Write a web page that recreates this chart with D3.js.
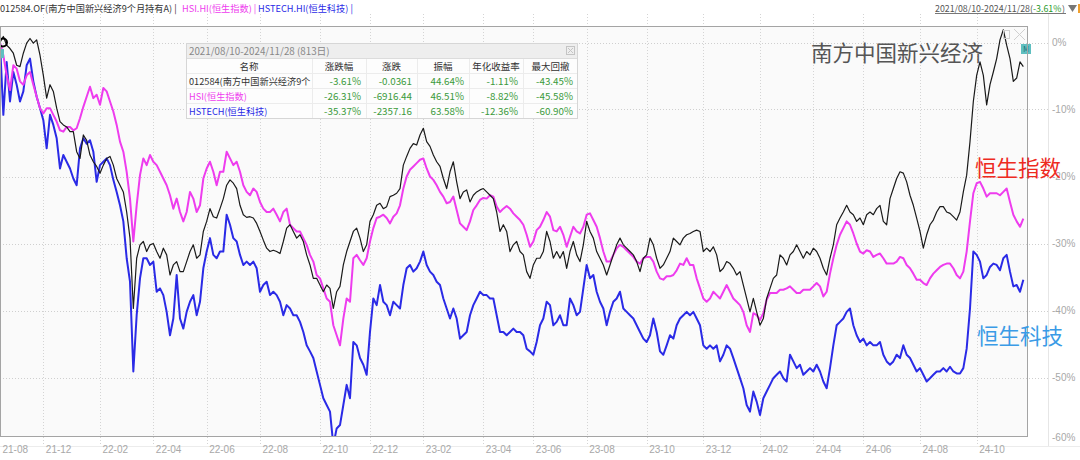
<!DOCTYPE html>
<html>
<head>
<meta charset="utf-8">
<script src="https://cdn.jsdelivr.net/npm/d3@7"></script>
<style>
body { margin: 0; background: #fff; }
svg { display: block; font-family: "Noto Sans CJK SC", "Noto Sans", sans-serif; }
</style>
</head>
<body>
<svg id="chart" width="1080" height="460"></svg>
<script>
// cumulative return (%), one sample every ~2.6 trading days
var fundVals = [
  0,0.9,-0.4,-0.9,-1.6,-3.4,-3.6,-1.6,-0.1,0.6,
  -0.1,0.4,-1.9,-4.9,-8.3,-6.3,-7.3,-9.8,-11.8,-12.3,
  -12.6,-13.3,-13.3,-16.3,-17.3,-13.8,-14.6,-16.8,-17.8,-18.5,
  -19.5,-18.3,-17.3,-17.0,-18.3,-20.3,-21.3,-22.3,-25.3,-29.2,
  -39.7,-32.2,-30.2,-29.7,-31.2,-30.2,-30.0,-31.2,-32.2,-30.7,
  -31.7,-34.7,-33.2,-32.7,-34.2,-34.2,-32.7,-31.2,-30.2,-32.2,
  -31.7,-28.2,-26.7,-24.8,-26.0,-26.2,-24.8,-23.3,-21.3,-20.5,
  -21.0,-21.8,-24.3,-25.7,-26.1,-26.0,-26.2,-27.0,-28.2,-29.5,
  -30.7,-31.2,-31.0,-31.2,-31.5,-29.7,-27.7,-27.2,-28.2,-29.2,
  -28.7,-29.7,-31.7,-33.2,-35.2,-35.2,-36.2,-37.2,-36.2,-36.7,
  -39.7,-37.2,-36.4,
  -33.2,-31.2,-29.7,-28.2,-27.7,-29.2,-31.2,-30.2,-26.7,
  -25.7,-24.3,-24.0,-24.8,-24.5,-23.0,-22.8,-22.5,-21.8,-18.3,
  -17.0,-15.8,-15.1,-15.3,-13.8,-12.8,-14.8,-15.5,-16.8,-17.8,
  -18.5,-20.3,-21.8,-19.3,-17.8,-20.8,-23.3,-22.3,-22.0,-23.8,
  -22.8,-22.3,-22.0,-21.8,-22.3,-22.8,-23.3,-25.3,-28.2,-27.2,
  -28.2,-31.2,-30.2,-29.7,-31.2,-31.7,-34.2,-35.2,-33.2,-32.2,
  -32.2,-31.2,-28.2,-29.7,-32.2,-31.2,-32.2,-31.2,-33.7,-31.2,
  -29.7,-31.7,-32.7,-30.2,-26.7,-28.2,-29.2,-31.2,-32.2,-33.2,
  -34.7,-33.2,-31.7,-30.2,-29.2,-30.2,-30.7,-31.2,-31.7,-32.7,
  -34.2,-32.2,-31.7,-29.2,-30.2,-32.2,-33.7,-33.2,-32.2,-31.2,
  -29.2,-29.7,-30.2,
  -29.2,-28.7,-28.5,-28.2,-28.0,-28.2,-31.2,-30.7,-31.2,
  -30.5,-31.7,-34.2,-33.7,-32.7,-33.0,-33.7,-34.7,-34.2,-36.2,
  -38.2,-40.2,-38.2,-40.2,-42.2,-41.2,-38.2,-36.7,-35.2,-34.7,
  -31.7,-32.2,-33.2,-31.7,-31.2,-30.2,-31.2,-32.2,-31.2,-31.7,
  -30.7,-31.2,-32.2,-33.7,-34.7,-32.2,-30.2,-27.2,-26.2,-25.3,
  -24.3,-25.3,-25.7,-26.7,-26.2,-27.2,-25.7,-25.3,-25.7,-24.8,
  -24.3,-26.7,-27.2,-23.3,-21.8,-20.3,-19.3,-19.5,-20.8,-22.8,
  -24.3,-26.2,-28.2,-30.7,-28.7,-27.2,-26.5,-25.3,-24.5,-24.5,
  -25.3,-25.5,-26.0,-26.5,-25.3,-22.3,-19.8,-14.8,-8.8,-4.9,
  -2.9,-4.9,-9.3,-6.3,-4.4,-2.4,0.4,1.9,-0.4,-2.4,
  -5.8,-5.3,-2.9,-3.6
];

var hsiVals = [
  0,-1.9,-4.9,-7.1,-3.4,-3.9,-5.8,-6.3,-4.9,-4.4,
  -6.3,-8.1,-9.8,-10.6,-9.8,-9.8,-10.8,-11.8,-13.1,-13.3,
  -12.6,-12.6,-13.1,-12.8,-11.3,-9.6,-8.1,-6.6,-8.3,-7.8,
  -9.3,-6.8,-7.3,-8.8,-10.3,-12.3,-14.8,-16.3,-19.3,-23.3,
  -29.7,-24.3,-19.8,-17.3,-18.3,-16.8,-17.8,-18.3,-19.3,-20.3,
  -21.3,-22.8,-24.8,-23.3,-25.3,-26.7,-25.3,-22.3,-23.3,-25.3,
  -24.3,-20.3,-18.8,-17.8,-19.3,-21.3,-19.3,-19.3,-16.3,-17.3,
  -18.3,-17.8,-19.3,-21.3,-22.3,-22.8,-21.8,-22.3,-23.8,-24.8,
  -25.3,-25.3,-24.8,-25.7,-26.7,-25.3,-24.8,-27.2,-27.7,-28.2,
  -28.2,-29.2,-30.2,-31.7,-32.7,-34.7,-35.2,-36.7,-38.2,-38.7,
  -42.2,-43.7,-45.2,
  -41.2,-38.2,-38.7,-32.2,-31.7,-32.5,-33.2,-32.2,-29.7,
  -27.7,-26.2,-26.0,-25.7,-26.2,-27.0,-26.0,-25.5,-24.3,-21.8,
  -20.0,-19.0,-18.5,-18.0,-17.5,-17.3,-18.8,-20.0,-20.5,-21.3,
  -22.3,-23.0,-24.0,-23.8,-23.0,-25.0,-27.0,-27.5,-28.0,-26.7,
  -25.0,-24.3,-23.5,-23.2,-23.3,-22.8,-23.0,-24.5,-25.3,-24.8,
  -24.4,-24.8,-25.5,-26.0,-26.5,-27.2,-28.7,-30.5,-29.7,-28.0,
  -27.5,-26.5,-25.3,-26.0,-28.0,-28.2,-27.5,-28.7,-30.5,-29.0,
  -27.5,-28.2,-28.5,-27.5,-25.7,-25.5,-26.5,-27.5,-29.2,-31.2,
  -32.7,-32.7,-31.7,-30.7,-30.2,-30.5,-31.0,-31.5,-32.0,-32.7,
  -33.0,-32.2,-32.0,-32.0,-32.7,-34.2,-35.2,-35.4,-34.9,-34.9,
  -34.7,-34.0,-33.0,
  -33.2,-32.2,-33.2,-33.2,-35.2,-36.7,-38.2,-38.7,-38.2,
  -37.2,-37.7,-38.2,-37.2,-36.2,-37.2,-38.2,-38.7,-39.2,-40.2,
  -42.2,-43.2,-40.4,-40.7,-41.4,-40.4,-38.4,-37.4,-37.4,-37.4,
  -36.9,-36.9,-36.7,-36.4,-36.9,-37.4,-37.4,-36.9,-36.9,-36.9,
  -36.4,-35.9,-36.4,-37.9,-37.2,-34.5,-32.2,-30.2,-28.7,-27.7,
  -26.7,-27.2,-28.5,-30.0,-31.2,-31.5,-31.0,-31.2,-32.0,-31.7,
  -31.5,-32.2,-33.0,-33.0,-33.0,-32.7,-32.0,-32.2,-33.2,-33.7,
  -34.5,-35.4,-35.4,-35.9,-36.2,-35.2,-34.5,-34.0,-33.5,-33.2,
  -33.0,-33.0,-33.7,-34.7,-35.2,-34.2,-31.2,-26.7,-22.5,-21.0,
  -20.8,-21.8,-23.0,-22.5,-22.5,-22.5,-22.8,-22.3,-21.8,-23.8,
  -25.7,-26.7,-27.5,-26.3
];

var hstechVals = [
  0,-10.8,-2.9,-8.8,-4.4,-6.3,-8.8,-7.3,-3.4,-2.4,
  -5.8,-8.1,-9.8,-11.6,-15.8,-10.8,-12.3,-14.3,-18.8,-16.8,
  -17.8,-18.8,-20.3,-21.3,-15.8,-14.3,-15.1,-14.6,-16.3,-20.8,
  -18.3,-17.8,-17.3,-18.3,-20.5,-22.3,-24.3,-26.7,-32.2,-35.7,
  -49.1,-40.7,-35.2,-32.2,-32.2,-33.2,-32.7,-37.2,-36.7,-37.7,
  -40.2,-43.7,-41.2,-34.7,-41.2,-42.7,-40.2,-38.7,-37.7,-40.7,
  -38.7,-33.7,-31.2,-29.2,-31.7,-32.2,-31.2,-31.2,-25.7,-27.2,
  -29.2,-29.7,-31.7,-33.2,-32.7,-33.2,-32.7,-33.7,-37.2,-36.2,
  -35.7,-37.7,-37.2,-37.7,-38.7,-40.7,-39.2,-39.7,-40.7,-40.7,
  -41.7,-43.2,-45.2,-46.1,-47.1,-49.1,-51.1,-53.1,-54.1,-55.1,
  -60.1,-57.6,-57.1,
  -54.1,-51.1,-53.1,-44.7,-45.2,-47.1,-48.1,-49.6,-43.2,
  -38.2,-39.2,-36.2,-38.7,-39.2,-40.7,-38.7,-39.2,-39.7,-36.2,
  -33.7,-33.2,-34.2,-33.7,-32.7,-31.2,-33.2,-34.2,-34.7,-35.7,
  -36.2,-38.2,-39.7,-41.2,-39.7,-41.2,-44.2,-43.7,-43.2,-40.7,
  -39.2,-38.2,-37.2,-37.7,-37.7,-38.2,-38.2,-40.7,-43.2,-43.2,
  -43.7,-43.2,-42.7,-43.2,-43.2,-43.7,-45.7,-46.1,-46.6,-44.7,
  -42.2,-41.2,-38.7,-39.2,-42.2,-41.7,-40.7,-42.2,-42.2,-38.2,
  -39.2,-40.7,-40.2,-36.7,-33.2,-35.2,-34.7,-37.2,-38.7,-39.7,
  -42.2,-40.2,-38.7,-38.2,-37.2,-39.7,-40.2,-40.7,-41.2,-42.2,
  -43.2,-44.2,-44.7,-43.7,-41.2,-43.2,-46.1,-46.6,-45.2,-43.7,
  -44.2,-42.2,-41.2,
  -40.7,-40.2,-40.7,-40.2,-41.2,-42.2,-45.2,-45.7,-45.2,
  -45.7,-45.2,-47.6,-46.6,-45.2,-45.7,-47.1,-48.6,-50.1,-51.6,
  -54.1,-55.1,-52.1,-53.6,-55.6,-53.1,-52.1,-51.1,-50.1,-49.6,
  -49.1,-50.1,-50.6,-46.6,-47.6,-48.6,-48.1,-49.6,-49.1,-48.6,
  -49.1,-48.1,-49.1,-50.6,-51.6,-48.6,-45.2,-42.2,-41.7,-41.2,
  -40.2,-39.7,-42.2,-43.7,-44.7,-44.2,-45.2,-44.7,-45.2,-45.2,
  -44.7,-46.6,-47.6,-48.1,-47.6,-46.6,-47.1,-45.2,-46.6,-47.1,
  -48.1,-49.1,-48.6,-49.6,-50.6,-50.1,-49.6,-49.1,-49.1,-48.6,
  -49.1,-48.4,-49.1,-49.4,-49.4,-48.6,-45.7,-39.7,-31.2,-31.7,
  -32.7,-35.2,-34.7,-33.5,-33.0,-33.2,-34.0,-32.2,-31.7,-34.2,
  -36.4,-36.2,-37.2,-35.4
];

// x tick marks (sample index) and their labels
var xTickPos = [0, 13, 30, 46, 62, 78, 96, 111, 127, 145, 160, 176, 194, 211, 228, 244, 259, 276, 293];
var xTickLabels = ["21-08","21-12","22-02","22-04","22-06","22-08","22-10","22-12","23-02","23-04",
                   "23-06","23-08","23-10","23-12","24-02","24-04","24-06","24-08","24-10"];
var yTicks = [0, -10, -20, -30, -40, -50, -60];

// summary table
var tableHeaders = ["名称", "涨跌幅", "涨跌", "振幅", "年化收益率", "最大回撤"];
var tableNames = ["012584(南方中国新兴经济9个", "HSI(恒生指数)", "HSTECH(恒生科技)"];
var changePct = ["-3.61%", "-26.31%", "-35.37%"];
var changeAbs = ["-0.0361", "-6916.44", "-2357.16"];
var amplitude = ["44.64%", "46.51%", "63.58%"];
var annualRet = ["-1.11%", "-8.82%", "-12.36%"];
var maxDrawdown = ["-43.45%", "-45.58%", "-60.90%"];

var seriesColors = ["#1a1a1a", "#ee3cee", "#2a2ae6"];

var svg = d3.select("#chart");

var x = d3.scaleLinear().domain([0, 307.5]).range([0, 1025]);
var y = d3.scaleLinear().domain([-60, 0]).range([444.5, 42.5]);

// plot background
svg.append("rect")
   .attr("x", 0.5).attr("y", 26.5)
   .attr("width", 1027).attr("height", 410)
   .style("fill", "#fafafa");

// grid
svg.append("g").selectAll("line")
   .data(yTicks.filter(function(d){ return d > -60; }))
   .enter().append("line")
   .attr("x1", 0).attr("x2", 1049)
   .attr("y1", function(d){ return Math.round(y(d)) + 0.5; })
   .attr("y2", function(d){ return Math.round(y(d)) + 0.5; })
   .style("stroke", "#cfcfcf")
   .style("stroke-dasharray", "1,2");

svg.append("g").selectAll("line")
   .data(xTickPos.slice(1))
   .enter().append("line")
   .attr("x1", function(d){ return Math.round(x(d)) + 0.5; })
   .attr("x2", function(d){ return Math.round(x(d)) + 0.5; })
   .attr("y1", 14).attr("y2", 446)
   .style("stroke", "#d4d4d4")
   .style("stroke-dasharray", "1,2");

svg.append("line")
   .attr("x1", 1048.5).attr("x2", 1048.5).attr("y1", 14).attr("y2", 447)
   .style("stroke", "#e6e6e6");
svg.append("line")
   .attr("x1", 0).attr("x2", 1080).attr("y1", 446.5).attr("y2", 446.5)
   .style("stroke", "#ececec");

// axes
var xAxis = d3.axisBottom(x)
   .tickValues(xTickPos)
   .tickFormat(function(d, i){ return xTickLabels[i]; })
   .tickSize(0).tickPadding(0);
var gx = svg.append("g").attr("transform", "translate(0,447)").call(xAxis);
gx.select(".domain").remove();
gx.selectAll("text")
   .attr("text-anchor", "start")
   .attr("dx", 2).attr("dy", "0.55em")
   .style("font-size", "10px")
   .style("fill", "#a8a8a8");

var yAxis = d3.axisRight(y)
   .tickValues(yTicks)
   .tickFormat(function(d){ return d + "%"; })
   .tickSize(0).tickPadding(2);
var gy = svg.append("g").attr("transform", "translate(1050,0)").call(yAxis);
gy.select(".domain").remove();
gy.selectAll("text")
   .style("font-size", "10px")
   .style("fill", "#a8a8a8");
gy.selectAll(".tick")
   .filter(function(d){ return d === -60; })
   .attr("transform", "translate(0,438)");

// lines
svg.append("clipPath").attr("id", "plotclip")
   .append("rect").attr("x", 0).attr("y", 27).attr("width", 1028).attr("height", 410);

var line = d3.line()
   .x(function(d, i){ return x(i); })
   .y(function(d){ return y(d); });

var lines = svg.append("g").attr("clip-path", "url(#plotclip)");
[[hstechVals, 2, 2], [hsiVals, 1, 2], [fundVals, 0, 1.2]].forEach(function(s){
  lines.append("path")
     .datum(s[0])
     .attr("d", line)
     .style("fill", "none")
     .style("stroke", seriesColors[s[1]])
     .style("stroke-width", s[2])
     .style("stroke-linejoin", "round");
});

// start / end markers
lines.append("circle")
   .attr("cx", x(0) + 3).attr("cy", y(fundVals[0]))
   .attr("r", 4)
   .style("fill", "none").style("stroke", "#000").style("stroke-width", 2);
lines.append("rect")
   .attr("x", -5).attr("y", 49).attr("width", 9).attr("height", 9)
   .style("fill", "#5fbfc0");
svg.append("rect")
   .attr("x", 1021).attr("y", 44).attr("width", 10).attr("height", 10)
   .style("fill", "#5fbfc0");
svg.append("text")
   .attr("x", 1026).attr("y", 52).attr("text-anchor", "middle")
   .style("font-size", "7px").style("fill", "#1d6b6b")
   .text("M");

// frame
svg.append("rect")
   .attr("x", 0.5).attr("y", 26.5)
   .attr("width", 1027).attr("height", 410)
   .style("fill", "none").style("stroke", "#a4a4a4");

// little icons top right of frame
svg.append("rect")
   .attr("x", 1003.5).attr("y", 30.5).attr("width", 6).attr("height", 8)
   .style("fill", "none").style("stroke", "#cfcfcf");
svg.append("path")
   .attr("d", "M1014,29L1025,40M1025,29L1014,40")
   .style("stroke", "#d0d0d0");

// big series labels (恒生指数 sits over the -20% label, as in the source)
var bigLabels = [
  {text: "南方中国新兴经济", x: 811, y: 61, color: "#555555"},
  {text: "恒生指数", x: 975, y: 176, color: "#ee2b1f"},
  {text: "恒生科技", x: 977, y: 344, color: "#3a9be6"}
];
svg.selectAll(".biglabel")
   .data(bigLabels)
   .enter().append("text")
   .attr("class", "biglabel")
   .attr("x", function(d){ return d.x; })
   .attr("y", function(d){ return d.y; })
   .style("font-size", "21.5px")
   .style("fill", function(d){ return d.color; })
   .text(function(d){ return d.text; });

// header line (top left), each name carries its own separator
var header = [
  {t: "012584.OF(南方中国新兴经济9个月持有A) |", x: 0, c: "#333"},
  {t: "HSI.HI(恒生指数) |", x: 182, c: seriesColors[1]},
  {t: "HSTECH.HI(恒生科技) |", x: 258, c: seriesColors[2]}
];
header.forEach(function(h){
  svg.append("text")
     .attr("x", h.x).attr("y", 12)
     .style("font-size", "9.2px")
     .style("fill", h.c)
     .text(h.t);
});

// header line (top right)
svg.append("text").attr("x", 935).attr("y", 12)
   .style("font-size", "8.8px").style("fill", "#555")
   .text("2021/08/10-2024/11/28(");
svg.append("text").attr("x", 1033).attr("y", 12)
   .style("font-size", "8.8px").style("fill", "#2a9a2a")
   .text(changePct[0]);
svg.append("text").attr("x", 1062).attr("y", 12)
   .style("font-size", "8.8px").style("fill", "#555")
   .text(")");
svg.append("line")
   .attr("x1", 935).attr("x2", 1066).attr("y1", 13.5).attr("y2", 13.5)
   .style("stroke", "#777");
svg.append("path").attr("d", "M1068,5L1077,5L1072.5,12Z").style("fill", "#777");
svg.append("rect").attr("x", 1078).attr("y", 4).attr("width", 2).attr("height", 9).style("fill", "#f0a030");

// summary table
var tbl = svg.append("g");
var colEdges = [186, 312, 366, 417, 469, 523, 578];
tbl.append("rect")
   .attr("x", 186.5).attr("y", 43.5).attr("width", 391).attr("height", 75)
   .style("fill", "#fdfdfd").style("stroke", "#d6d6d6");
tbl.append("rect")
   .attr("x", 187).attr("y", 44).attr("width", 390).attr("height", 14)
   .style("fill", "#eeeeee");
tbl.append("line")
   .attr("x1", 187).attr("x2", 577).attr("y1", 58.5).attr("y2", 58.5)
   .style("stroke", "#dcdcdc");
tbl.append("text")
   .attr("x", 189).attr("y", 55)
   .style("font-size", "9.8px").style("fill", "#888")
   .text("2021/08/10-2024/11/28 (813日)");
tbl.append("rect")
   .attr("x", 566.5).attr("y", 46.5).attr("width", 8).attr("height", 8)
   .style("fill", "none").style("stroke", "#c4c4c4");
tbl.append("path")
   .attr("d", "M568,48L573,53M573,48L568,53")
   .style("stroke", "#c4c4c4");

[73.5, 88.5, 103.5].forEach(function(yy){
  tbl.append("line").attr("x1", 187).attr("x2", 577).attr("y1", yy).attr("y2", yy)
     .style("stroke", "#ececec");
});
colEdges.slice(1, 6).forEach(function(xx){
  tbl.append("line").attr("x1", xx + 0.5).attr("x2", xx + 0.5).attr("y1", 59).attr("y2", 118)
     .style("stroke", "#ececec");
});

tbl.selectAll(".th")
   .data(tableHeaders)
   .enter().append("text")
   .attr("x", function(d, i){ return (colEdges[i] + colEdges[i + 1]) / 2; })
   .attr("y", 70)
   .attr("text-anchor", "middle")
   .style("font-size", "9.5px").style("fill", "#333")
   .text(function(d){ return d; });

var rowY = [85, 100, 115];
var nameColors = ["#333", seriesColors[1], seriesColors[2]];
tableNames.forEach(function(n, r){
  tbl.append("text")
     .attr("x", 189).attr("y", rowY[r])
     .style("font-size", "9.2px").style("fill", nameColors[r])
     .text(n);
  [changePct, changeAbs, amplitude, annualRet, maxDrawdown].forEach(function(col, c){
    tbl.append("text")
       .attr("x", colEdges[c + 2] - 5).attr("y", rowY[r])
       .attr("text-anchor", "end")
       .style("font-size", "9.8px").style("fill", "#3b9a3b")
       .text(col[r]);
  });
});
</script>
</body>
</html>
